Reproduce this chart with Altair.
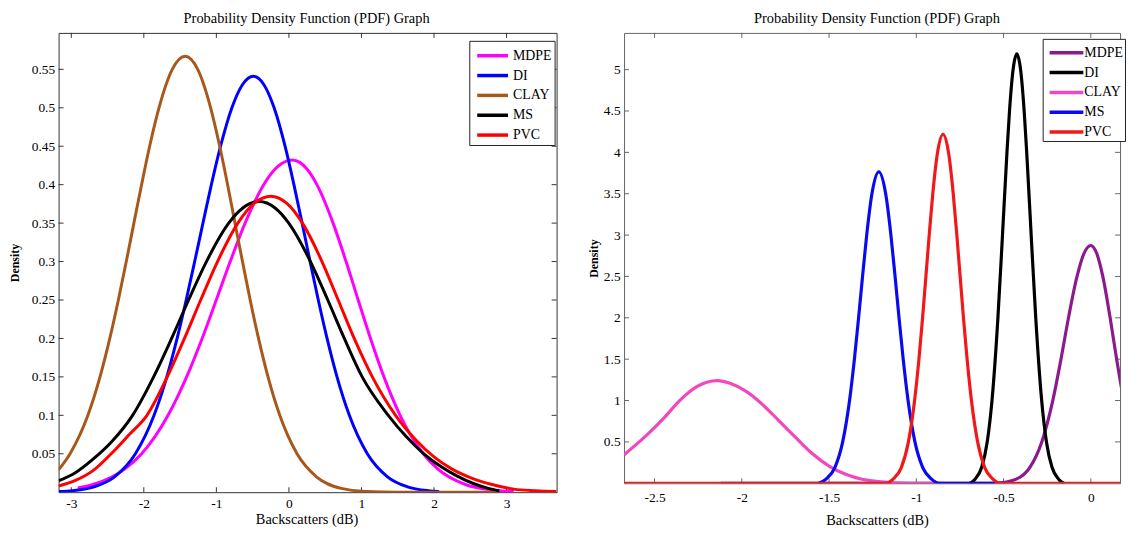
import altair as alt
import pandas as pd

FONT = "Liberation Serif"
SERIES = ["MDPE", "DI", "CLAY", "MS", "PVC"]
LEFT_COLORS = ["#FF00FF", "#0000FF", "#A8581A", "#000000", "#FF0000"]
RIGHT_COLORS = ["#8B1A8E", "#000000", "#F048BE", "#0A0AF0", "#F01818"]

TITLE = "Probability Density Function (PDF) Graph"
X_TITLE = "Backscatters (dB)"
Y_TITLE = "Density"

LEFT_X_TICKS = [-3, -2, -1, 0, 1, 2, 3]
LEFT_Y_TICKS = [0.05, 0.1, 0.15, 0.2, 0.25, 0.3, 0.35, 0.4, 0.45, 0.5, 0.55]
RIGHT_X_TICKS = [-2.5, -2, -1.5, -1, -0.5, 0]
RIGHT_Y_TICKS = [0.5, 1, 1.5, 2, 2.5, 3, 3.5, 4, 4.5, 5]
LEFT_X_RANGE = [-3.175, 3.69]
LEFT_Y_RANGE = [0, 0.5974]
RIGHT_X_RANGE = [-2.675, 0.1675]
RIGHT_Y_RANGE = [0, 5.444]

# ---------------- left panel ----------------
L_X_MDPE = [-2.91, -2.70, -2.265, -2.03, -1.666, -1.41, -1.196, -1.001, -0.809, -0.604, -0.347,
            -0.193, -0.10, 0.045, 0.15, 0.252, 0.386, 0.609, 0.788, 0.955, 1.125, 1.31, 1.533,
            1.852, 2.055, 2.432, 2.787, 3.10]
L_Y_MDPE = [0.0055, 0.01, 0.03, 0.05, 0.10, 0.15, 0.20, 0.25, 0.30, 0.35, 0.40,
            0.42, 0.4275, 0.432, 0.429, 0.42, 0.40, 0.35, 0.30, 0.25, 0.20, 0.15, 0.10,
            0.05, 0.03, 0.01, 0.003, 0.0009]

L_X_DI = [-3.17, -2.983, -2.687, -2.404, -2.116, -1.859, -1.683, -1.541, -1.416, -1.299, -1.185,
          -1.069, -0.942, -0.786, -0.641, -0.49, -0.344, -0.204, -0.053, 0.069, 0.182, 0.292,
          0.405, 0.526, 0.663, 0.833, 1.081, 1.359, 1.633, 1.92, 2.07]
L_Y_DI = [0.0008, 0.002, 0.007, 0.02, 0.05, 0.10, 0.15, 0.20, 0.25, 0.30, 0.35,
          0.40, 0.45, 0.50, 0.53, 0.541, 0.53, 0.50, 0.45, 0.40, 0.35, 0.30,
          0.25, 0.20, 0.15, 0.10, 0.05, 0.02, 0.007, 0.002, 0.001]

L_X_CLAY = [-3.175, -3.017, -2.771, -2.604, -2.469, -2.351, -2.242, -2.137, -2.031, -1.92, -1.791,
            -1.608, -1.43, -1.257, -1.079, -0.954, -0.845, -0.743, -0.64, -0.534, -0.419, -0.288,
            -0.126, 0.112, 0.38, 0.723, 1.06, 1.50, 2.84]
L_Y_CLAY = [0.029, 0.05, 0.10, 0.15, 0.20, 0.25, 0.30, 0.35, 0.40, 0.45, 0.50,
            0.55, 0.567, 0.55, 0.50, 0.45, 0.40, 0.35, 0.30, 0.25, 0.20, 0.15,
            0.10, 0.05, 0.02, 0.005, 0.001, 0.0, 0.0]

L_X_MS = [-3.17, -2.95, -2.70, -2.45, -2.155, -1.865, -1.617, -1.383, -1.137, -0.83, -0.631, -0.41,
          -0.195, -0.002, 0.297, 0.536, 0.764, 1.01, 1.37, 1.62, 1.86, 2.10, 2.32, 2.55, 2.75, 2.90]
L_Y_MS = [0.015, 0.025, 0.043, 0.065, 0.10, 0.15, 0.20, 0.25, 0.30, 0.35, 0.37, 0.378,
          0.37, 0.35, 0.30, 0.25, 0.20, 0.15, 0.10, 0.072, 0.05, 0.033, 0.021, 0.011, 0.005, 0.002]

L_X_PVC = [-3.175, -2.95, -2.70, -2.45, -2.20, -1.957, -1.677, -1.44, -1.216, -0.984, -0.704,
           -0.476, -0.25, -0.032, 0.187, 0.456, 0.679, 0.90, 1.15, 1.47, 1.75, 2.00, 2.25, 2.50,
           2.80, 3.10, 3.40, 3.69]
L_Y_PVC = [0.008, 0.015, 0.028, 0.05, 0.075, 0.10, 0.15, 0.20, 0.25, 0.30, 0.35,
           0.376, 0.385, 0.376, 0.35, 0.30, 0.25, 0.20, 0.15, 0.10, 0.068, 0.046, 0.03, 0.019,
           0.01, 0.004, 0.002, 0.001]

# ---------------- right panel ----------------
R_X_MDPE = [-2.12, -0.55, -0.52, -0.427, -0.35, -0.281, -0.218, -0.171, -0.128, -0.079, -0.0387,
            0.0, 0.0335, 0.0687, 0.1107, 0.148, 0.189, 0.213]
R_Y_MDPE = [0.0, 0.0, 0.005, 0.05, 0.19, 0.50, 1.00, 1.50, 2.00, 2.50, 2.78,
            2.874, 2.78, 2.50, 2.00, 1.50, 1.00, 0.75]

R_X_DI = [-0.694, -0.6633, -0.626, -0.5938, -0.5664, -0.5324, -0.5062, -0.4806, -0.466, -0.4455,
          -0.424, -0.4025, -0.382, -0.3674, -0.3418, -0.3156, -0.2816, -0.2542, -0.222, -0.1847,
          -0.154]
R_Y_DI = [0.0, 0.05, 0.19, 0.50, 1.00, 2.00, 3.00, 4.00, 4.50, 5.00,
          5.19, 5.00, 4.50, 4.00, 3.00, 2.00, 1.00, 0.50, 0.19, 0.05, 0.0]

R_X_CLAY = [-2.675, -2.542, -2.447, -2.352, -2.258, -2.20, -2.14, -2.068, -1.973, -1.879, -1.784,
            -1.689, -1.595, -1.50, -1.405, -1.311, -1.216, -1.121, -1.03, -0.85]
R_Y_CLAY = [0.345, 0.588, 0.788, 1.008, 1.168, 1.222, 1.24, 1.208, 1.108, 0.948, 0.748,
            0.548, 0.356, 0.208, 0.108, 0.048, 0.02, 0.004, 0.0, 0.0]

R_X_MS = [-1.56, -1.5177, -1.4668, -1.422, -1.3827, -1.3548, -1.3309, -1.3082, -1.2844, -1.2544,
          -1.215, -1.1756, -1.1456, -1.1218, -1.0991, -1.0752, -1.0473, -1.008, -0.9632, -0.9123,
          -0.87, -0.55]
R_Y_MS = [0.0, 0.05, 0.19, 0.50, 1.00, 1.50, 2.00, 2.50, 3.00, 3.50,
          3.765, 3.50, 3.00, 2.50, 2.00, 1.50, 1.00, 0.50, 0.19, 0.05,
          0.0, 0.0]

R_X_PVC = [-2.675, -1.177, -1.1328, -1.086, -1.0453, -1.0099, -0.985, -0.9642, -0.9262, -0.9056,
           -0.8782, -0.847, -0.8158, -0.7884, -0.7678, -0.7298, -0.709, -0.6841, -0.6487, -0.608,
           -0.5612, -0.517, 0.213]
R_Y_PVC = [0.0, 0.0, 0.05, 0.19, 0.50, 1.00, 1.50, 2.00, 3.00, 3.50,
           4.00, 4.217, 4.00, 3.50, 3.00, 2.00, 1.50, 1.00, 0.50, 0.19,
           0.05, 0.0, 0.0]


def long_df(xs_list, ys_list):
    rows = []
    for name, xs, ys in zip(SERIES, xs_list, ys_list):
        for xv, yv in zip(xs, ys):
            rows.append({"series": name, "x": xv, "y": yv})
    return pd.DataFrame(rows)


def panel(df, colors, xdom, ydom, xticks, yticks, W, H, frame, lw, opt):
    sx = alt.Scale(domain=xdom, nice=False, zero=False)
    sy = alt.Scale(domain=ydom, nice=False, zero=False)
    xaxis = alt.Axis(values=xticks, ticks=False, domain=False, grid=False,
                     labelFont=FONT, labelFontSize=13.5, labelColor="black",
                     labelPadding=opt["xlp"], labelFlush=False, labelOverlap=False,
                     labelExpr="toString(datum.value)",
                     titleFont=FONT, titleFontSize=14.5, titleFontWeight="normal",
                     titleColor="black", titlePadding=opt["xtp"], titleX=opt["tx"])
    yaxis = alt.Axis(values=yticks, ticks=False, domain=False, grid=False,
                     labelFont=FONT, labelFontSize=13.5, labelColor="black",
                     labelPadding=4, labelFlush=False, labelOverlap=False,
                     labelExpr="toString(datum.value)",
                     minExtent=opt["ext"], maxExtent=opt["ext"],
                     titleFont=FONT, titleFontSize=12, titleFontWeight="bold",
                     titleColor="black", titlePadding=opt["ytp"])
    x = alt.X("x:Q", scale=sx, axis=xaxis, title=X_TITLE)
    y = alt.Y("y:Q", scale=sy, axis=yaxis, title=Y_TITLE)
    legend = alt.Legend(orient="none", legendX=opt["lx"], legendY=opt["ly"], title=None,
                        symbolType=opt["path"], symbolSize=400, symbolStrokeWidth=3.5,
                        symbolOffset=opt["so"], labelOffset=opt["lo"],
                        labelFont=FONT, labelFontSize=14, labelColor="black",
                        padding=opt["pad"], rowPadding=1,
                        strokeColor="#222222", fillColor="white", cornerRadius=0)
    lines = alt.Chart(df).mark_line(strokeWidth=lw, interpolate="monotone", clip=True).encode(
        x=x, y=y,
        color=alt.Color("series:N", scale=alt.Scale(domain=SERIES, range=colors), legend=legend),
    )
    xt = pd.DataFrame({"x": xticks})
    yt = pd.DataFrame({"y": yticks})
    bottom = alt.Chart(xt).mark_rule(color=frame, strokeWidth=1).encode(
        x=x, y=alt.value(H), y2=alt.value(H - 5))
    top = alt.Chart(xt).mark_rule(color=frame, strokeWidth=1).encode(
        x=x, y=alt.value(0), y2=alt.value(5))
    left = alt.Chart(yt).mark_rule(color=frame, strokeWidth=1).encode(
        y=y, x=alt.value(0), x2=alt.value(5))
    right = alt.Chart(yt).mark_rule(color=frame, strokeWidth=1).encode(
        y=y, x=alt.value(W), x2=alt.value(W - 5))
    return alt.layer(bottom, top, left, right, lines).properties(
        width=W, height=H,
        title=alt.TitleParams(TITLE, font=FONT, fontSize=14.5, fontWeight="normal",
                              color="black", anchor="middle", frame="group",
                              offset=opt["toff"], dx=opt["tdx"]),
        view=alt.ViewBackground(stroke=frame, strokeWidth=1),
    )


left_df = long_df([L_X_MDPE, L_X_DI, L_X_CLAY, L_X_MS, L_X_PVC],
                  [L_Y_MDPE, L_Y_DI, L_Y_CLAY, L_Y_MS, L_Y_PVC])
right_df = long_df([R_X_MDPE, R_X_DI, R_X_CLAY, R_X_MS, R_X_PVC],
                   [R_Y_MDPE, R_Y_DI, R_Y_CLAY, R_Y_MS, R_Y_PVC])

left_chart = panel(left_df, LEFT_COLORS, LEFT_X_RANGE, LEFT_Y_RANGE, LEFT_X_TICKS, LEFT_Y_TICKS,
                   502, 463, "#333333", 3,
                   {"xlp": 4, "xtp": 3, "tx": 250, "ext": 28, "ytp": 9, "toff": 6, "tdx": -1,
                    "lx": 414, "ly": 8, "path": "M-1.55,0H1.55", "so": 8.5, "lo": 8.5, "pad": 3})
right_chart = panel(right_df, RIGHT_COLORS, RIGHT_X_RANGE, RIGHT_Y_RANGE, RIGHT_X_TICKS,
                    RIGHT_Y_TICKS, 500, 454, "#666666", 3.2,
                    {"xlp": 7, "xtp": 10, "tx": 255, "ext": 22, "ytp": 2, "toff": 6, "tdx": 5,
                     "lx": 422, "ly": 6, "path": "M-1.7,0H1.7", "so": 10, "lo": 6, "pad": 2})

chart = alt.hconcat(left_chart, right_chart, spacing=29).resolve_scale(
    color="independent"
).properties(
    padding={"left": 0, "top": 0, "right": 0, "bottom": 0},
    background="white",
)

chart.save("out.html", embed_options={"renderer": "svg", "actions": False})
